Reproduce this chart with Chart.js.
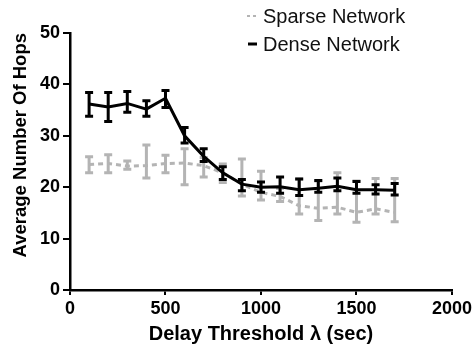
<!DOCTYPE html>
<html>
<head>
<meta charset="utf-8">
<script src="https://cdn.jsdelivr.net/npm/chart.js@4/dist/chart.umd.min.js"></script>
<style>
  html, body { margin: 0; padding: 0; background: #fff; }
  #c { display: block; }
</style>
</head>
<body>
<canvas id="c" width="475" height="354"></canvas>
<script>
// ---- Data ----
const delays = [100, 200, 300, 400, 500, 600, 700, 800, 900, 1000, 1100, 1200, 1300, 1400, 1500, 1600, 1700];

const denseMean = [36.2, 35.6, 36.3, 35.2, 37.3, 30.0, 26.0, 22.8, 20.6, 20.0, 20.1, 19.5, 19.8, 20.2, 19.5, 19.5, 19.4];
const denseHigh = [38.4, 38.4, 38.6, 36.8, 38.8, 31.6, 27.5, 24.0, 21.5, 21.0, 22.0, 21.6, 21.3, 21.8, 21.1, 20.5, 20.7];
const denseLow  = [33.8, 32.8, 34.6, 33.8, 35.5, 28.6, 25.0, 21.5, 19.3, 19.0, 18.8, 18.4, 19.0, 19.3, 18.8, 18.7, 18.5];

const sparseMean = [24.4, 24.6, 24.1, 24.2, 24.6, 24.7, 24.2, 22.8, 20.6, 19.0, 18.2, 16.4, 15.9, 16.1, 15.1, 15.8, 15.1];
const sparseHigh = [25.9, 26.3, 25.1, 28.2, 26.2, 27.5, 25.8, 24.5, 25.5, 23.1, 19.8, 21.6, 21.2, 22.8, 21.2, 21.7, 21.7];
const sparseLow  = [22.8, 22.8, 23.5, 21.8, 22.8, 20.5, 22.0, 20.9, 18.3, 17.5, 17.2, 14.8, 13.5, 14.8, 13.2, 14.8, 13.3];

const xTicks = [0, 500, 1000, 1500, 2000];
const yTicks = [0, 10, 20, 30, 40, 50];

const seriesNames = ['Sparse Network', 'Dense Network'];
const xTitle = 'Delay Threshold \u03bb (sec)';
const yTitle = 'Average Number Of Hops';

// ---- Styles ----
const FONT = "'Liberation Sans', Arial, Helvetica, sans-serif";
const GRAY = '#b4b4b4';
const BLACK = '#000000';

const errData = [
  { low: sparseLow, high: sparseHigh, color: GRAY, width: 3 },
  { low: denseLow, high: denseHigh, color: BLACK, width: 3 }
];

// Error bars drawn through the chart's own scales
const errorBarPlugin = {
  id: 'errorBars',
  afterDatasetDraw(chart, args) {
    const idx = args.index;
    const e = errData[idx];
    if (!e) return;
    const { ctx, scales: { x, y } } = chart;
    ctx.save();
    ctx.strokeStyle = e.color;
    ctx.lineWidth = e.width;
    ctx.lineCap = 'butt';
    ctx.setLineDash([]);
    const cap = 4;
    delays.forEach((d, i) => {
      const px = x.getPixelForValue(d);
      const pHi = y.getPixelForValue(e.high[i]);
      const pLo = y.getPixelForValue(e.low[i]);
      ctx.beginPath();
      ctx.moveTo(px, pHi); ctx.lineTo(px, pLo);
      ctx.moveTo(px - cap, pHi); ctx.lineTo(px + cap, pHi);
      ctx.moveTo(px - cap, pLo); ctx.lineTo(px + cap, pLo);
      ctx.stroke();
    });
    ctx.restore();
  }
};

// Legend in the top-right corner, like the reference
const legendPlugin = {
  id: 'cornerLegend',
  afterDraw(chart) {
    const ctx = chart.ctx;
    ctx.save();
    ctx.font = '20px ' + FONT;
    ctx.fillStyle = '#111';
    ctx.textBaseline = 'alphabetic';
    ctx.textAlign = 'left';
    // Sparse
    ctx.strokeStyle = GRAY;
    ctx.lineWidth = 2;
    ctx.setLineDash([3, 3]);
    ctx.beginPath(); ctx.moveTo(247, 16); ctx.lineTo(259, 16); ctx.stroke();
    ctx.fillText(seriesNames[0], 263, 23);
    // Dense
    ctx.setLineDash([]);
    ctx.strokeStyle = BLACK;
    ctx.lineWidth = 3;
    ctx.beginPath(); ctx.moveTo(248, 44); ctx.lineTo(257, 44); ctx.stroke();
    ctx.fillText(seriesNames[1], 263, 51);
    ctx.restore();
  }
};

new Chart(document.getElementById('c'), {
  type: 'line',
  data: {
    datasets: [
      {
        label: seriesNames[0],
        data: delays.map((d, i) => ({ x: d, y: sparseMean[i] })),
        borderColor: GRAY,
        borderWidth: 3,
        borderDash: [5, 4],
        pointRadius: 0,
        tension: 0,
        fill: false,
        order: 2
      },
      {
        label: seriesNames[1],
        data: delays.map((d, i) => ({ x: d, y: denseMean[i] })),
        borderColor: BLACK,
        borderWidth: 3,
        pointRadius: 0,
        tension: 0,
        fill: false,
        order: 1
      }
    ]
  },
  options: {
    responsive: false,
    animation: false,
    devicePixelRatio: 1,
    layout: { padding: { top: 33, right: 20, left: 0, bottom: 0 } },
    plugins: { legend: { display: false }, tooltip: { enabled: false } },
    scales: {
      x: {
        type: 'linear',
        min: 0, max: 2000,
        afterBuildTicks(s) { s.ticks = xTicks.map(v => ({ value: v })); },
        ticks: { color: '#000', font: { family: FONT, size: 18, weight: 'bold' }, padding: 3, maxRotation: 0,
                 callback: v => String(v) },
        grid: { drawOnChartArea: false, color: '#000', lineWidth: 2, tickLength: 5 },
        border: { color: '#000', width: 2.5 },
        title: { display: true, text: xTitle, color: '#000', font: { family: FONT, size: 20, weight: 'bold' }, padding: { top: 0, bottom: 8 } },
        afterFit(s) { s.height = 64; }
      },
      y: {
        type: 'linear',
        min: 0, max: 50,
        afterBuildTicks(s) { s.ticks = yTicks.map(v => ({ value: v })); },
        ticks: { color: '#000', font: { family: FONT, size: 18, weight: 'bold' }, padding: 3, callback: v => String(v) },
        grid: { drawOnChartArea: false, color: '#000', lineWidth: 2, tickLength: 7 },
        border: { color: '#000', width: 2.5 },
        title: { display: true, text: yTitle, align: 'end', color: '#000', font: { family: FONT, size: 18.5, weight: 'bold' }, padding: { top: 10, bottom: 0 } },
        afterFit(s) { s.width = 70; }
      }
    }
  },
  plugins: [errorBarPlugin, legendPlugin]
});
</script>
</body>
</html>
